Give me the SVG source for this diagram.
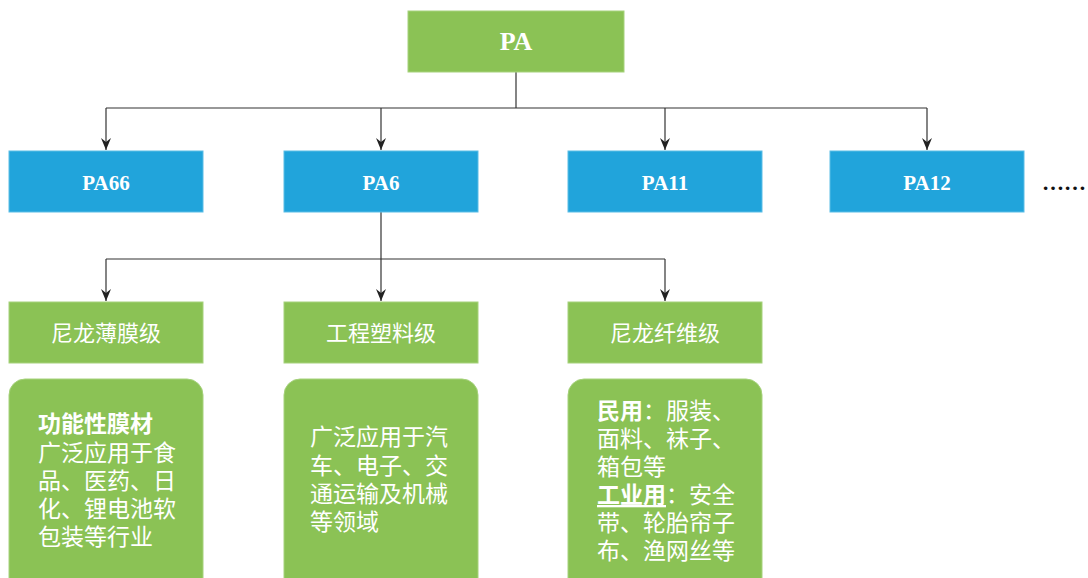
<svg xmlns="http://www.w3.org/2000/svg" width="1088" height="578" viewBox="0 0 1088 578">
<style>
.g{fill:#8BC255;stroke:#A6D27C;stroke-width:1}
.b{fill:#21A4DB;stroke:#5BBDE6;stroke-width:1}
.lt{font-family:"Liberation Serif","Noto Sans CJK SC",serif;font-weight:bold;fill:#fff;text-anchor:middle}
.cn{font-family:"Liberation Serif","Noto Sans CJK SC",serif;fill:#fff;font-size:23px}
.hd{font-family:"Liberation Serif","Noto Sans CJK SC",serif;fill:#fff;font-size:22px;text-anchor:middle}
.c{fill:none;stroke:#333;stroke-width:1.2}
</style>
<defs>
<marker id="ad" viewBox="0 0 10 12" refX="5" refY="12" markerWidth="10" markerHeight="12" markerUnits="userSpaceOnUse">
<path d="M0,0 L5,12 L10,0 L5,4 Z" fill="#222"/>
</marker>
</defs>
<rect width="1088" height="578" fill="#fff"/>
<g id="connectors">
<path class="c" d="M516,72 V108"/>
<path class="c" d="M106,108 H927"/>
<path class="c" d="M106,108 V150" marker-end="url(#ad)"/>
<path class="c" d="M381,108 V150" marker-end="url(#ad)"/>
<path class="c" d="M665,108 V150" marker-end="url(#ad)"/>
<path class="c" d="M927,108 V150" marker-end="url(#ad)"/>
<path class="c" d="M381,212 V301" marker-end="url(#ad)"/>
<path class="c" d="M106,259 H665"/>
<path class="c" d="M106,259 V301" marker-end="url(#ad)"/>
<path class="c" d="M665,259 V301" marker-end="url(#ad)"/>
</g>
<g id="node-PA"><rect class="g" x="408" y="11" width="216" height="61"/><text class="lt" x="516" y="50" font-size="26">PA</text></g>
<g id="node-PA66"><rect class="b" x="9" y="151" width="194" height="61"/><text class="lt" x="106" y="190" font-size="21">PA66</text></g>
<g id="node-PA6"><rect class="b" x="284" y="151" width="194" height="61"/><text class="lt" x="381" y="190" font-size="21">PA6</text></g>
<g id="node-PA11"><rect class="b" x="568" y="151" width="194" height="61"/><text class="lt" x="665" y="190" font-size="21">PA11</text></g>
<g id="node-PA12"><rect class="b" x="830" y="151" width="194" height="61"/><text class="lt" x="927" y="190" font-size="21">PA12</text></g>
<g id="more"><text x="1042" y="190" font-family="Liberation Serif,serif" font-size="22" font-weight="bold" fill="#111">……</text></g>
<g id="node-film"><rect class="g" x="9" y="302" width="194" height="61"/><text class="hd" x="106" y="341">尼龙薄膜级</text></g>
<g id="node-eng"><rect class="g" x="284" y="302" width="194" height="61"/><text class="hd" x="381" y="341">工程塑料级</text></g>
<g id="node-fiber"><rect class="g" x="568" y="302" width="194" height="61"/><text class="hd" x="665" y="341">尼龙纤维级</text></g>
<g id="node-film-desc"><rect class="g" x="9" y="379" width="194" height="215" rx="16"/>
<text class="cn" x="38" y="432" font-weight="bold">功能性膜材</text>
<text class="cn" x="38" y="461">广泛应用于食</text>
<text class="cn" x="38" y="489">品、医药、日</text>
<text class="cn" x="38" y="517">化、锂电池软</text>
<text class="cn" x="38" y="545">包装等行业</text>
</g>
<g id="node-eng-desc"><rect class="g" x="284" y="379" width="194" height="215" rx="16"/>
<text class="cn" x="310" y="445">广泛应用于汽</text>
<text class="cn" x="310" y="474">车、电子、交</text>
<text class="cn" x="310" y="502">通运输及机械</text>
<text class="cn" x="310" y="530">等领域</text>
</g>
<g id="node-fiber-desc"><rect class="g" x="568" y="379" width="194" height="215" rx="16"/>
<text class="cn" x="597" y="419"><tspan font-weight="bold">民用</tspan>：服装、</text>
<text class="cn" x="597" y="447">面料、袜子、</text>
<text class="cn" x="597" y="475">箱包等</text>
<text class="cn" x="597" y="503"><tspan font-weight="bold" text-decoration="underline">工业用</tspan>：安全</text>
<text class="cn" x="597" y="531">带、轮胎帘子</text>
<text class="cn" x="597" y="559">布、渔网丝等</text>
</g>
</svg>
